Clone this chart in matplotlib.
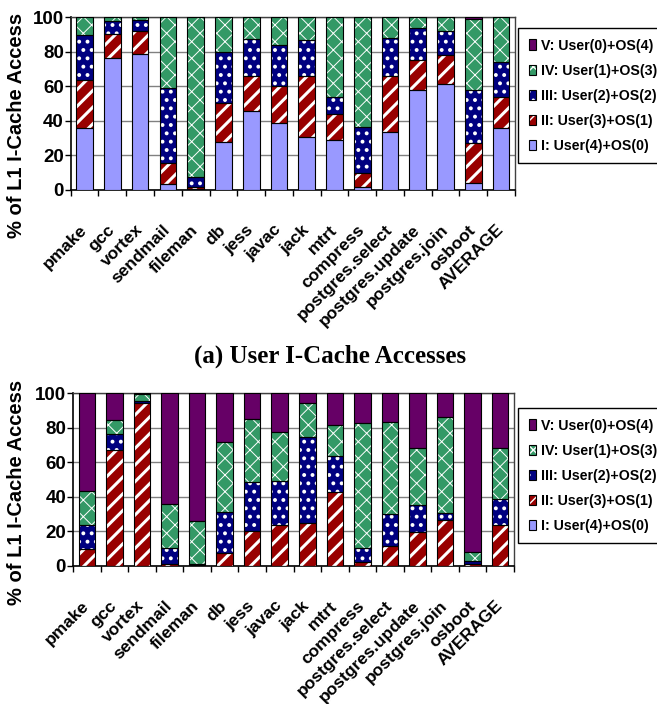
import matplotlib
matplotlib.use("Agg")
import matplotlib.pyplot as plt
from matplotlib.patches import Patch
from matplotlib import font_manager
import numpy as np

plt.rcParams['font.family'] = ['Liberation Sans', 'DejaVu Sans']
plt.rcParams['font.weight'] = 'bold'

benchmarks = ['pmake', 'gcc', 'vortex', 'sendmail', 'fileman', 'db', 'jess',
              'javac', 'jack', 'mtrt', 'compress', 'postgres.select',
              'postgres.update', 'postgres.join', 'osboot', 'AVERAGE']

series_names = ['I: User(4)+OS(0)', 'II: User(3)+OS(1)', 'III: User(2)+OS(2)',
                'IV: User(1)+OS(3)', 'V: User(0)+OS(4)']

# (a) user i-cache accesses, % per category
user_I = [35.6, 76.3, 78.8, 3.3, 0.6, 27.9, 45.8, 38.5, 30.8, 28.8, 1.9, 33.3, 58.0, 61.0, 4.2, 35.6]
user_II = [28.2, 14.1, 12.9, 12.1, 0.9, 22.5, 20.2, 21.7, 35.2, 14.9, 8.1, 32.7, 17.0, 17.3, 23.1, 17.9]
user_III = [25.6, 7.1, 6.8, 43.6, 6.2, 29.4, 21.5, 23.8, 20.9, 10.1, 26.5, 22.0, 18.7, 13.4, 30.7, 20.5]
user_IV = [10.6, 2.5, 1.5, 41.0, 92.3, 20.2, 12.5, 16.0, 13.1, 46.2, 63.5, 12.0, 6.3, 8.3, 41.0, 26.0]
user_V = [0, 0, 0, 0, 0, 0, 0, 0, 0, 0, 0, 0, 0, 0, 1.0, 0]

# (b) os i-cache accesses
os_I = [0] * 16
os_II = [9.8, 67.2, 94.2, 1.2, 0.6, 7.3, 20.5, 23.7, 24.7, 43.0, 2.1, 11.8, 19.5, 26.6, 1.2, 23.7]
os_III = [13.9, 9.1, 1.2, 9.4, 0.6, 24.2, 28.0, 25.5, 49.8, 20.3, 8.1, 18.2, 15.8, 4.3, 1.5, 14.9]
os_IV = [19.7, 7.9, 4.1, 25.1, 24.8, 40.1, 36.5, 28.0, 19.5, 18.2, 72.4, 53.2, 32.8, 55.2, 5.2, 29.5]
os_V = [56.6, 15.8, 0.5, 64.3, 74.0, 28.4, 15.0, 22.8, 6.0, 18.5, 17.4, 16.8, 31.9, 13.9, 92.1, 31.9]

colors = ['#9999FF', '#990000', '#000080', '#339966', '#660066']
hatches = [None, '//', '..', 'xx', None]
hatch_lw = [1.0, 2.2, 1.6, 0.7, 1.0]

# narrow face for the legend if it is installed
installed = {f.name for f in font_manager.fontManager.ttflist}
legend_family = 'Liberation Sans Narrow' if 'Liberation Sans Narrow' in installed else 'Liberation Sans'
legend_size = 11.5 if legend_family == 'Liberation Sans Narrow' else 10.2


def draw_panel(ax, data):
    x = np.arange(len(benchmarks))
    bottom = np.zeros(len(benchmarks))
    for vals, c, h, hl in zip(data, colors, hatches, hatch_lw):
        vals = np.array(vals, dtype=float)
        # hatched fill first (white hatch), black outline on top
        with plt.rc_context({'hatch.linewidth': hl}):
            bars = ax.bar(x, vals, 0.6, bottom=bottom, color=c, hatch=h,
                          edgecolor='white', linewidth=0, zorder=3)
        for b in bars:
            if hasattr(b, 'set_hatch_linewidth'):
                b.set_hatch_linewidth(hl)
        ax.bar(x, vals, 0.6, bottom=bottom, fill=False, edgecolor='black',
               linewidth=0.8, zorder=4)
        bottom += vals

    ax.set_xlim(-0.5, len(benchmarks) - 0.5)
    ax.set_ylim(0, 100)
    ax.set_yticks([0, 20, 40, 60, 80, 100])
    ax.yaxis.grid(True, color='#808080', linewidth=1, zorder=0)
    ax.set_axisbelow(True)
    ax.tick_params(axis='y', labelsize=13.5, length=4, width=1, pad=1, colors='black')
    for t in ax.get_yticklabels():
        t.set_fontweight('bold')

    ax.set_xticks(x)
    ax.set_xticklabels(benchmarks, rotation=45, ha='right', va='center',
                       rotation_mode='anchor', fontsize=12.5, fontweight='bold')
    ax.tick_params(axis='x', which='major', length=0, pad=27)
    ax.set_xticks(np.arange(len(benchmarks) + 1) - 0.5, minor=True)
    ax.tick_params(axis='x', which='minor', length=4, width=1)

    for s in ['left', 'bottom']:
        ax.spines[s].set_color('black')
        ax.spines[s].set_linewidth(1.2)
    for s in ['top', 'right']:
        ax.spines[s].set_color('#404040')
        ax.spines[s].set_linewidth(1)


def legend_handles():
    hs = []
    for c, h in zip(colors, hatches):
        p = Patch(facecolor=c, edgecolor='white', hatch=h, linewidth=0)
        o = Patch(fill=False, edgecolor='black', linewidth=0.8)
        hs.append((p, o))
    return hs[::-1]


fig = plt.figure(figsize=(6.57, 7.04), dpi=100)

ax1 = fig.add_axes([70.7 / 657, 1 - 190 / 704, 444.3 / 657, 173 / 704])
draw_panel(ax1, [user_I, user_II, user_III, user_IV, user_V])
ax2 = fig.add_axes([73 / 657, 1 - 566 / 704, 441 / 657, 173 / 704])
draw_panel(ax2, [os_I, os_II, os_III, os_IV, os_V])

for ytop in [28, 408]:
    leg = fig.legend(legend_handles(), series_names[::-1], loc='upper left',
                     bbox_to_anchor=(518 / 657, 1 - ytop / 704), borderaxespad=0,
                     fancybox=False, edgecolor='black', framealpha=1,
                     prop={'size': legend_size, 'weight': 'bold', 'family': legend_family},
                     handlelength=0.55, handleheight=0.75, handletextpad=0.35,
                     labelspacing=0.78, borderpad=0.75)
    leg.get_frame().set_linewidth(1)

fig.text(17 / 657, 1 - 125 / 704, '% of L1 I-Cache Access', rotation=90,
         ha='center', va='center', fontsize=14.5, fontweight='bold')
fig.text(17 / 657, 1 - 492 / 704, '% of L1 I-Cache Access', rotation=90,
         ha='center', va='center', fontsize=14.5, fontweight='bold')

fig.text(330 / 657, 1 - 356 / 704, '(a) User I-Cache Accesses', ha='center',
         va='center', fontsize=18, fontweight='bold', family='Liberation Serif')

fig.savefig('out.png', dpi=100)
